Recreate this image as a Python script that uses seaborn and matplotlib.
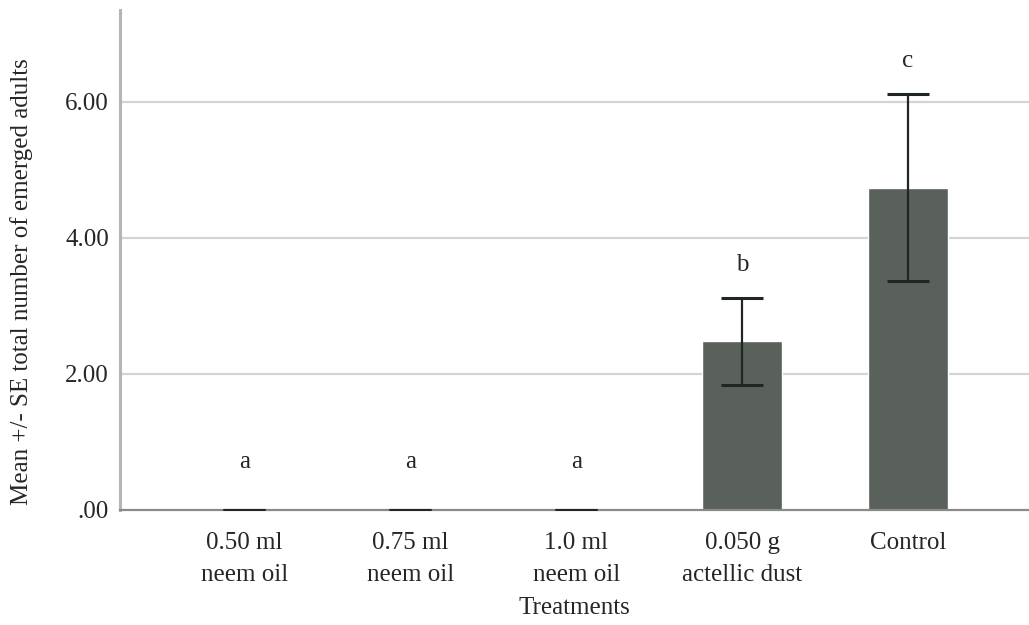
import numpy as np
import pandas as pd
import matplotlib
matplotlib.use('Agg')
import matplotlib.pyplot as plt
import seaborn as sns

# data
treatments = ['0.50 ml\nneem oil', '0.75 ml\nneem oil', '1.0 ml\nneem oil',
              '0.050 g\nactellic dust', 'Control']
means = [0.0, 0.0, 0.0, 2.48, 4.74]
se = [0.0, 0.0, 0.0, 0.64, 1.37]
letters = ['a', 'a', 'a', 'b', 'c']
letter_y = [0.7, 0.7, 0.7, 3.6, 6.6]
y_ticks = [0, 2, 4, 6]
y_tick_labels = ['.00', '2.00', '4.00', '6.00']

sns.set_style('white')
plt.rcParams['font.family'] = ['Liberation Serif', 'DejaVu Serif']

df = pd.DataFrame({'treatment': treatments, 'mean': means})

fig = plt.figure(figsize=(10.29, 6.25), dpi=100)
ax = fig.add_axes([0.1166, 0.184, 0.8834, 0.8])

# grid lines behind the bars
for yv in y_ticks[1:]:
    ax.axhline(yv, color='#d4d4d4', lw=1.6, zorder=0)

sns.barplot(data=df, x='treatment', y='mean', color='#59615a', saturation=1,
            width=0.48, errorbar=None, ax=ax, zorder=2)

xpos = np.arange(len(treatments))
ax.errorbar(xpos, means, yerr=se, fmt='none', ecolor='#1e2820', elinewidth=1.6,
            capsize=15, capthick=2.2, zorder=3)

for x, t, ly in zip(xpos, letters, letter_y):
    ax.text(x, ly, t, ha='center', va='center', fontsize=18)

ax.set_xlim(-0.75, 4.73)
ax.set_ylim(0, 7.35)
ax.set_yticks(y_ticks)
ax.set_yticklabels(y_tick_labels)
ax.tick_params(axis='both', length=0, labelsize=18, pad=8)
ax.tick_params(axis='x', pad=16)
for lab in ax.get_xticklabels():
    lab.set_linespacing(1.55)

ax.set_xlabel('Treatments', fontsize=18, labelpad=8)
ax.set_ylabel('Mean +/- SE total number of emerged adults', fontsize=18)
ax.yaxis.set_label_coords(-0.096, 0.456)

for side in ['top', 'right']:
    ax.spines[side].set_visible(False)
ax.spines['left'].set_color('#b5b5b5')
ax.spines['left'].set_linewidth(2.2)
ax.spines['bottom'].set_color('#8a8a8a')
ax.spines['bottom'].set_linewidth(1.6)

plt.savefig('out.png', dpi=100)
